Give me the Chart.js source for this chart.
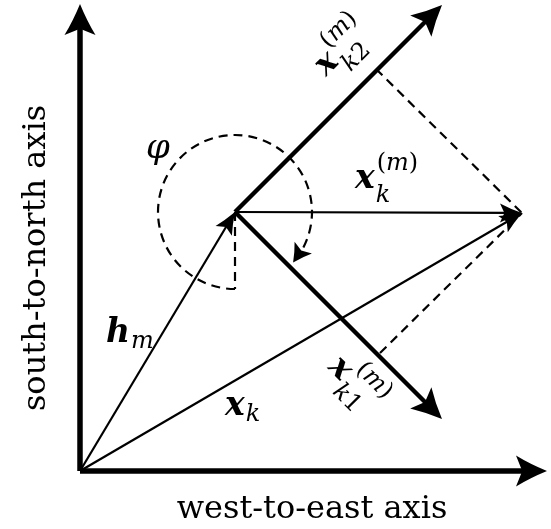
<!DOCTYPE html>
<html>
<head>
<meta charset="utf-8">
<script src="https://cdn.jsdelivr.net/npm/chart.js@4.4.1/dist/chart.umd.min.js"></script>
<style>
  html, body { margin: 0; padding: 0; background: #fff; }
  canvas { display: block; }
</style>
</head>
<body>
<canvas id="chart" width="551" height="529"></canvas>
<script>
// vectors in the plane, origin = corner of the two axes (east, north)
var axisEast   = [[0, 0], [467, 0]];
var axisNorth  = [[0, 0], [0, 467]];
var hm         = [[0, 0], [155, 259]];
var xk         = [[0, 0], [442, 258]];
var xkm        = [[155, 259], [442, 258]];
var xk1        = [[155, 259], [362, 52]];
var xk2        = [[155, 259], [362, 466]];
var projK2     = [[296, 402], [442, 258]];
var projK1     = [[300, 118], [442, 258]];
var rightAngle = [[155, 259], [155, 182]];
var phiCenter  = [155, 259];
var phiRadius  = 77;
var phiSweep   = [90, 401]; // degrees, screen direction, clockwise

// text
var axisTitles = ['west-to-east axis', 'south-to-north axis'];
var mathLabels = [
    { base: 'x', sub: 'k',  sup: '(m)' },
    { base: 'x', sub: 'k2', sup: '(m)' },
    { base: 'x', sub: 'k1', sup: '(m)' },
    { base: 'x', sub: 'k',  sup: '' },
    { base: 'h', sub: 'm',  sup: '' }
];
var labelAt = [[275, 283, 0], [246, 394, -45], [247, 103, 45], [145, 56, 0], [26, 129, 0]];
var phiText = 'φ';

var FONT = '"DejaVu Serif", serif';

function pts(arr) {
    return arr.map(function(p) { return { x: p[0], y: p[1] }; });
}

function seg(arr, width, opts) {
    var d = {
        data: pts(arr),
        showLine: true,
        borderColor: '#000',
        borderWidth: width,
        pointRadius: 0,
        clip: false
    };
    for (var k in opts) d[k] = opts[k];
    return d;
}

function drawHead(ctx, x, y, ux, uy, len, half) {
    var nx = -uy, ny = ux;
    ctx.save();
    ctx.fillStyle = '#000';
    ctx.beginPath();
    ctx.moveTo(x, y);
    ctx.quadraticCurveTo(x - ux * len * 0.55 + nx * half * 0.45, y - uy * len * 0.55 + ny * half * 0.45,
                         x - ux * len + nx * half, y - uy * len + ny * half);
    ctx.lineTo(x - ux * len * 0.8, y - uy * len * 0.8);
    ctx.lineTo(x - ux * len - nx * half, y - uy * len - ny * half);
    ctx.quadraticCurveTo(x - ux * len * 0.55 - nx * half * 0.45, y - uy * len * 0.55 - ny * half * 0.45, x, y);
    ctx.closePath();
    ctx.fill();
    ctx.restore();
}

function lastDir(chart, index) {
    var el = chart.getDatasetMeta(index).data;
    var a = el[el.length - 2], b = el[el.length - 1];
    var dx = b.x - a.x, dy = b.y - a.y, L = Math.hypot(dx, dy);
    return { x: b.x, y: b.y, ux: dx / L, uy: dy / L };
}

// arrow heads; the shaft is clipped so it does not poke past the tip
var arrowPlugin = {
    id: 'arrows',
    beforeDatasetDraw: function(chart, args) {
        var ds = chart.data.datasets[args.index];
        if (!ds.arrow) return;
        var d = lastDir(chart, args.index);
        var cut = ds.arrow.len * 0.6, R = 3000;
        var bx = d.x - d.ux * cut, by = d.y - d.uy * cut;
        var nx = -d.uy, ny = d.ux;
        var ctx = chart.ctx;
        ctx.save();
        ctx.beginPath();
        ctx.moveTo(bx + nx * R, by + ny * R);
        ctx.lineTo(bx + nx * R - d.ux * R, by + ny * R - d.uy * R);
        ctx.lineTo(bx - nx * R - d.ux * R, by - ny * R - d.uy * R);
        ctx.lineTo(bx - nx * R, by - ny * R);
        ctx.closePath();
        ctx.clip();
    },
    afterDatasetDraw: function(chart, args) {
        var ds = chart.data.datasets[args.index];
        if (!ds.arrow) return;
        chart.ctx.restore();
        var d = lastDir(chart, args.index);
        drawHead(chart.ctx, d.x, d.y, d.ux, d.uy, ds.arrow.len, ds.arrow.half);
    }
};

function drawRun(ctx, str, x, y, size) {
    var w = 0;
    for (var i = 0; i < str.length; i++) {
        var ch = str[i];
        ctx.font = (/[a-z]/.test(ch) ? 'italic ' : '') + size + 'px ' + FONT;
        ctx.fillText(ch, x + w, y);
        w += ctx.measureText(ch).width;
    }
    return w;
}

var textPlugin = {
    id: 'annot',
    afterDatasetsDraw: function(chart) {
        var ctx = chart.ctx, xs = chart.scales.x, ys = chart.scales.y;
        var px = function(v) { return xs.getPixelForValue(v); };
        var py = function(v) { return ys.getPixelForValue(v); };

        // angle phi, dashed arc with arrow
        var cx = px(phiCenter[0]), cy = py(phiCenter[1]);
        var r = px(phiCenter[0] + phiRadius) - cx;
        var a0 = phiSweep[0] * Math.PI / 180, a1 = phiSweep[1] * Math.PI / 180;
        var headLen = 18, back = a1 - headLen / r;
        ctx.save();
        ctx.strokeStyle = '#000';
        ctx.lineWidth = 2.2;
        ctx.setLineDash([9, 6]);
        ctx.beginPath();
        ctx.arc(cx, cy, r, a0, back + 0.1 * headLen / r, false);
        ctx.stroke();
        ctx.restore();
        var tx = cx + r * Math.cos(a1), ty = cy + r * Math.sin(a1);
        var bx = cx + r * Math.cos(back), by = cy + r * Math.sin(back);
        var L = Math.hypot(tx - bx, ty - by);
        drawHead(ctx, tx, ty, (tx - bx) / L, (ty - by) / L, headLen, 10.5);

        ctx.save();
        ctx.fillStyle = '#000';
        ctx.textAlign = 'left';
        ctx.textBaseline = 'alphabetic';

        // vector labels
        mathLabels.forEach(function(lab, i) {
            var at = labelAt[i];
            ctx.save();
            ctx.translate(px(at[0]), py(at[1]));
            ctx.rotate(at[2] * Math.PI / 180);
            ctx.font = 'italic bold 33px ' + FONT;
            ctx.fillText(lab.base, 0, 0);
            var w = ctx.measureText(lab.base).width;
            if (lab.sup) drawRun(ctx, lab.sup, w + 2, -18, 24);
            if (lab.sub) drawRun(ctx, lab.sub, w + 1, lab.sup ? 14 : 6, 24);
            ctx.restore();
        });

        ctx.font = 'italic 34px ' + FONT;
        ctx.fillText(phiText, px(66), py(313));

        // axis titles
        ctx.font = '32px ' + FONT;
        ctx.textAlign = 'center';
        ctx.fillText(axisTitles[0], px(232), py(-47));
        ctx.save();
        ctx.translate(px(-35), py(213));
        ctx.rotate(-Math.PI / 2);
        ctx.fillText(axisTitles[1], 0, 0);
        ctx.restore();
        ctx.restore();
    }
};

var thinHead = { len: 22, half: 9.5 };
var thickHead = { len: 30, half: 15 };
var axisHead = { len: 31, half: 15.5 };
var dash = [9, 6];

new Chart(document.getElementById('chart'), {
    type: 'scatter',
    data: {
        datasets: [
            seg(projK2, 2.2, { borderDash: dash }),
            seg(projK1, 2.2, { borderDash: dash }),
            seg(rightAngle, 2.2, { borderDash: dash }),
            seg(xk, 2.2, { arrow: thinHead }),
            seg(xkm, 2.2, { arrow: thinHead }),
            seg(hm, 2.2, { arrow: thinHead }),
            seg(xk1, 4.4, { arrow: thickHead }),
            seg(xk2, 4.4, { arrow: thickHead }),
            seg(axisEast, 5.5, { arrow: axisHead }),
            seg(axisNorth, 5.5, { arrow: axisHead })
        ]
    },
    options: {
        responsive: false,
        animation: false,
        events: [],
        layout: { padding: 0 },
        plugins: {
            legend: { display: false },
            tooltip: { enabled: false }
        },
        scales: {
            x: { type: 'linear', display: false, min: -80, max: 471 },
            y: { type: 'linear', display: false, min: -58, max: 471 }
        }
    },
    plugins: [arrowPlugin, textPlugin]
});
</script>
</body>
</html>
